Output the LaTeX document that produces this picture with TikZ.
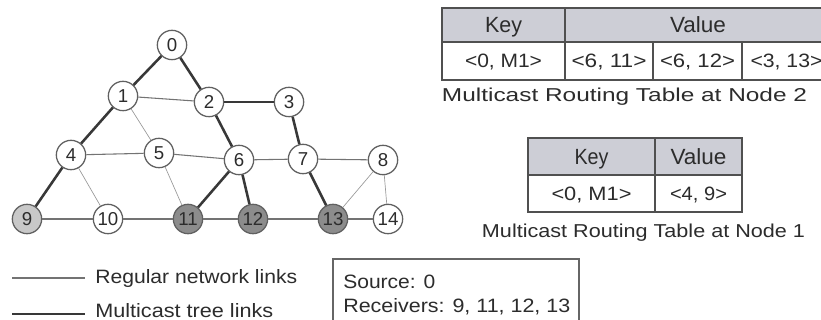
\documentclass[tikz,border=0pt]{standalone}
\usepackage{fontspec}
\setmainfont{Liberation Sans}
\usepackage{graphicx}
\newlength\px \setlength\px{0.75pt}
% \txw{font size pt}{width px}{text}
\newcommand\txw[3]{\resizebox{#2\px}{\height}{\fontsize{#1}{#1}\selectfont #3}}
\definecolor{txt}{HTML}{2C2C2C}
\definecolor{ndb}{HTML}{606060}
\definecolor{rcvA}{HTML}{C8C8C8}
\definecolor{rcvB}{HTML}{8C8C8C}
\definecolor{hdr}{HTML}{CDCED6}
\definecolor{tb}{HTML}{505050}
\tikzset{
  nd/.style={circle, draw=ndb, line width=0.95pt, fill=white, minimum size=22pt,
    inner sep=0pt, font=\fontsize{14}{14}\selectfont, text=txt},
  rcvlight/.style={nd, fill=rcvA},
  rcvdark/.style={nd, fill=rcvB},
  faint/.style={draw=black!40, line width=0.5pt},
  reg/.style={draw=black!55, line width=0.8pt},
  mc/.style={draw=black!78, line width=1.9pt},
  cell/.style={draw=tb, line width=0.8pt, inner sep=0pt, text height=10.2pt, text depth=0pt, text=txt},
  hcell/.style={cell, fill=hdr, text height=11.6pt},
  lbl/.style={inner sep=0pt, text=txt},
}
\begin{document}
\begin{tikzpicture}[x=0.75pt, y=-0.75pt]
\useasboundingbox (0,0) rectangle (821,320);
\clip (0,0) rectangle (821,320);
\fill[white] (0,0) rectangle (821,320);
% network nodes
\node[nd] (n0) at (172,45) {0};
\node[nd] (n1) at (123,96) {1};
\node[nd] (n2) at (209,102) {2};
\node[nd] (n3) at (289,102) {3};
\node[nd] (n4) at (71,155) {4};
\node[nd] (n5) at (159,153) {5};
\node[nd] (n6) at (239,160) {6};
\node[nd] (n7) at (303,159) {7};
\node[nd] (n8) at (383,160) {8};
\node[rcvlight] (n9) at (27,219) {9};
\node[nd] (n10) at (108,219) {10};
\node[rcvdark] (n11) at (188,219) {11};
\node[rcvdark] (n12) at (253,219) {12};
\node[rcvdark] (n13) at (333,219) {13};
\node[nd] (n14) at (388,219) {14};
% regular links
\draw[reg] (n1) -- (n2);
\draw[reg] (n4) -- (n5);
\draw[reg] (n5) -- (n6);
\draw[reg] (n6) -- (n7);
\draw[reg] (n7) -- (n8);
\draw[reg] (n9) -- (n10);
\draw[reg] (n10) -- (n11);
\draw[reg] (n11) -- (n12);
\draw[reg] (n12) -- (n13);
\draw[reg] (n13) -- (n14);
\draw[faint] (n1) -- (n5);
\draw[faint] (n4) -- (n10);
\draw[faint] (n5) -- (n11);
\draw[faint] (n8) -- (n13);
\draw[faint] (n8) -- (n14);
% multicast tree links
\draw[mc] (n0) -- (n1);
\draw[mc] (n0) -- (n2);
\draw[mc] (n1) -- (n4);
\draw[mc] (n4) -- (n9);
\draw[mc] (n2) -- (n3);
\draw[mc] (n2) -- (n6);
\draw[mc] (n3) -- (n7);
\draw[mc] (n6) -- (n11);
\draw[mc] (n6) -- (n12);
\draw[mc] (n7) -- (n13);
% table at node 2
\node[hcell, minimum width=123*0.75pt, minimum height=34*0.75pt] (t1kh) at (503.5,25) {\txw{16.5}{37}{Key}};
\node[hcell, minimum width=266*0.75pt, minimum height=34*0.75pt] (t1vh) at (698,25) {\txw{16.5}{56}{Value}};
\node[cell, minimum width=123*0.75pt, minimum height=38*0.75pt] (t1k) at (503.5,61) {\txw{14.5}{77}{<0, M1>}};
\node[cell, minimum width=88*0.75pt, minimum height=38*0.75pt] (t1a) at (609,61) {\txw{14.5}{75}{<6, 11>}};
\node[cell, minimum width=89*0.75pt, minimum height=38*0.75pt] (t1b) at (697.5,61) {\txw{14.5}{75}{<6, 12>}};
\node[cell, minimum width=89*0.75pt, minimum height=38*0.75pt] (t1c) at (786.5,61) {\txw{14.5}{72}{<3, 13>}};
\node[lbl, anchor=base] (c1) at (624.5,102) {\txw{14}{365}{Multicast Routing Table at Node 2}};
% table at node 1
\node[hcell, minimum width=127*0.75pt, minimum height=37*0.75pt] (t2kh) at (591.5,156.5) {\txw{16.5}{34}{Key}};
\node[hcell, minimum width=87*0.75pt, minimum height=37*0.75pt] (t2vh) at (698.5,156.5) {\txw{16.5}{56}{Value}};
\node[cell, minimum width=127*0.75pt, minimum height=37*0.75pt] (t2k) at (591.5,193.5) {\txw{14.5}{80}{<0, M1>}};
\node[cell, minimum width=87*0.75pt, minimum height=37*0.75pt] (t2v) at (698.5,193.5) {\txw{14.5}{57}{<4, 9>}};
\node[lbl, anchor=base] (c2) at (643.5,238) {\txw{14}{323}{Multicast Routing Table at Node 1}};
% legend
\coordinate (la1) at (12,278);
\coordinate (lb1) at (85,278);
\coordinate (la2) at (12,314);
\coordinate (lb2) at (85,314);
\draw[reg] (la1) -- (lb1);
\draw[mc] (la2) -- (lb2);
\node[lbl, anchor=base west] (lg1) at (95,284) {\txw{14.5}{202}{Regular network links}};
\node[lbl, anchor=base west] (lg2) at (95,318) {\txw{14.5}{178}{Multicast tree links}};
% source / receivers box
\draw[draw=black!60, line width=0.8pt] (333,259) rectangle (579,335);
\node[lbl, anchor=base west] (src) at (343,288) {\txw{14.5}{92}{Source: 0}};
\node[lbl, anchor=base west] (rcv) at (343,313) {\txw{14.5}{227}{Receivers: 9, 11, 12, 13}};
\end{tikzpicture}
\end{document}
